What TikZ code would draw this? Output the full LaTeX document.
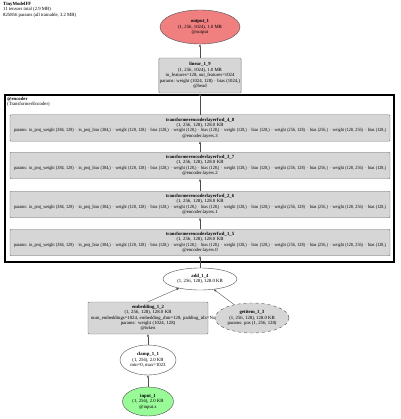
\documentclass[tikz,border=0pt]{standalone}
\usepackage{fontspec}
\setmainfont{Liberation Serif}
\usetikzlibrary{positioning,arrows.meta,shapes.geometric}

\definecolor{outred}{HTML}{F08080}
\definecolor{ingreen}{HTML}{98FB98}
\definecolor{modgray}{HTML}{D6D6D6}

\newcommand{\layerparams}{\resizebox{372pt}{\height}{params: in\_proj\_weight (384, 128) $\cdot$ in\_proj\_bias (384,) $\cdot$ weight (128, 128) $\cdot$ bias (128,) $\cdot$ weight (128,) $\cdot$ bias (128,) $\cdot$ weight (128,) $\cdot$ bias (128,) $\cdot$ weight (256, 128) $\cdot$ bias (256,) $\cdot$ weight (128, 256) $\cdot$ bias (128,)}}

\begin{document}
\begin{tikzpicture}[x=1pt, y=-1pt,
  every node/.style={font=\fontsize{4.75}{5.4}\selectfont, align=center, inner sep=1pt},
  modbox/.style={draw=black!55, fill=modgray, rounded corners=1pt, line width=0.4pt},
  layerbox/.style={modbox, minimum width=380pt, minimum height=26.5pt, text width=374pt},
  oval/.style={ellipse, draw=black!70, line width=0.4pt, inner sep=0pt},
  arrow/.style={-{Triangle[length=2.4pt,width=2pt]}, line width=0.35pt, black!70},
  clusterbox/.style={draw, line width=1.3pt},
]
\useasboundingbox (0,0) rectangle (400,419);
\clip (0,0) rectangle (400,419);

% header
\node[anchor=north west, align=left] (title) at (2,1)
  {\textbf{TinyModelFF}\\11 tensors total (2.9 MB)\\825856 params (all trainable, 3.2 MB)};

% output and head
\node[oval, fill=outred, minimum width=80pt, minimum height=34pt] (out) at (200,27)
  {\textbf{output\_1}\\(1, 256, 1024), 1.0 MB\\@output};
\node[modbox, minimum width=82pt, minimum height=35pt] (lin) at (200,75.5)
  {\textbf{linear\_1\_9}\\(1, 256, 1024), 1.0 MB\\in\_features=128, out\_features=1024\\params: weight (1024, 128) $\cdot$ bias (1024,)\\@head};

% encoder cluster
\node[layerbox] (l4) at (200,128)
  {\textbf{transformerencoderlayerfwd\_4\_8}\\(1, 256, 128), 128.0 KB\\\layerparams\\@encoder.layers.3};
\node[layerbox] (l3) at (200,165.5)
  {\textbf{transformerencoderlayerfwd\_3\_7}\\(1, 256, 128), 128.0 KB\\\layerparams\\@encoder.layers.2};
\node[layerbox] (l2) at (200,204.5)
  {\textbf{transformerencoderlayerfwd\_2\_6}\\(1, 256, 128), 128.0 KB\\\layerparams\\@encoder.layers.1};
\node[layerbox] (l1) at (200,242.5)
  {\textbf{transformerencoderlayerfwd\_1\_5}\\(1, 256, 128), 128.0 KB\\\layerparams\\@encoder.layers.0};
\draw[clusterbox] (5,95) rectangle (394,262);
\node[anchor=north west, align=left] (enclabel) at (6,96)
  {\textbf{@encoder}\\(TransformerEncoder)};

% inputs side
\node[oval, fill=white, minimum width=74pt, minimum height=22pt] (add) at (200,279)
  {\textbf{add\_1\_4}\\(1, 256, 128), 128.0 KB};
\node[modbox, minimum width=120pt, minimum height=32pt, text width=114pt] (emb) at (148,318)
  {\textbf{embedding\_1\_2}\\(1, 256, 128), 128.0 KB\\\makebox[114pt][l]{num\_embeddings=1024, embedding\_dim=128, padding\_idx=None}\\params: weight (1024, 128)\\@token};
\node[oval, dashed, fill=modgray, minimum width=74pt, minimum height=30pt] (getitem) at (252,318)
  {\textbf{getitem\_1\_3}\\(1, 256, 128), 128.0 KB\\params: pos (1, 256, 128)};
\node[oval, fill=white, minimum width=56pt, minimum height=30pt] (clamp) at (148,360)
  {\textbf{clamp\_1\_1}\\(1, 256), 2.0 KB\\min=0, max=1023};
\node[oval, fill=ingreen, minimum width=51pt, minimum height=29pt] (inp) at (148,401.5)
  {\textbf{input\_1}\\(1, 256), 2.0 KB\\@input.x};

\foreach \a/\b in {inp/clamp,clamp/emb,add/l1,l1/l2,l2/l3,l3/l4,l4/lin,lin/out}{ \draw[arrow] (\a) -- (\b); }
\draw[arrow] (emb.north) -- (add);
\draw[arrow] (getitem) -- (add);
\end{tikzpicture}
\end{document}
